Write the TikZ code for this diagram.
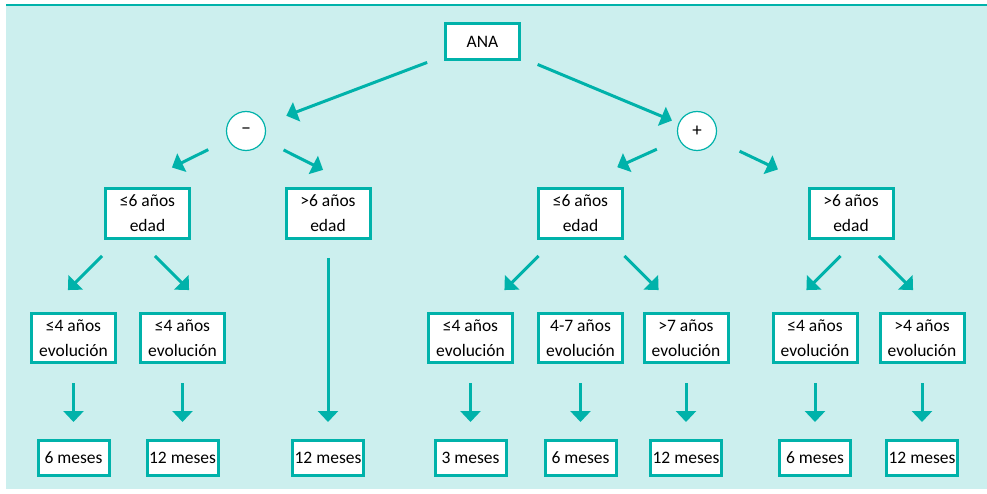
\documentclass[tikz,border=0pt]{standalone}
\usepackage{fontspec}
\setmainfont{Carlito}
\usepackage{tikz}
\usetikzlibrary{arrows.meta}
\usetikzlibrary{calc}
\definecolor{turq}{HTML}{00B2AA}
\definecolor{fondo}{HTML}{CCEFEE}

\begin{document}
\begin{tikzpicture}[x=1pt, y=-1pt,
    caja/.style={draw=turq, line width=3pt, fill=white, inner sep=0pt, align=center, text=black,
        font=\fontsize{17.5}{25}\selectfont},
    edad/.style={caja, minimum width=84pt, minimum height=50pt},
    evo/.style={caja, minimum width=84pt, minimum height=49pt},
    mes/.style={caja, minimum width=71pt, minimum height=35pt},
    signo/.style={circle, draw=turq, line width=1.2pt, fill=white, minimum size=39pt, inner sep=0pt,
        font=\fontsize{19}{19}\selectfont},
    flecha/.style={draw=turq, line width=3pt, -{Triangle[width=20pt,length=11pt]}}
]
\useasboundingbox (0,0) rectangle (987,494);

% fondo
\fill[fondo] (6,6) rectangle (987,489);
\draw[turq, line width=2.5pt] (6,5) -- (987,5);

\node[caja, minimum width=74pt, minimum height=36pt] (ana) at (482.5,41.5) {ANA};
\node[signo] (menos) at (246,131) {−};
\node[signo] (mas) at (697,131) {+};

\node[edad] (edadA) at (147.5,213.5) {≤6 años\\edad};
\node[edad] (edadB) at (328,213.5) {>6 años\\edad};
\node[edad] (edadC) at (580.5,213.5) {≤6 años\\edad};
\node[edad] (edadD) at (851,213.5) {>6 años\\edad};

\node[evo] (evoA) at (73.5,338) {≤4 años\\evolución};
\node[evo] (evoB) at (182.5,338) {≤4 años\\evolución};
\node[evo] (evoC) at (470.5,338) {≤4 años\\evolución};
\node[evo] (evoD) at (580.5,338) {4-7 años\\evolución};
\node[evo] (evoE) at (686,338) {>7 años\\evolución};
\node[evo] (evoF) at (815,338) {≤4 años\\evolución};
\node[evo] (evoG) at (922,338) {>4 años\\evolución};

\node[mes] (mesA) at (73.5,458) {6 meses};
\node[mes] (mesB) at (182.5,458) {12 meses};
\node[mes] (mesC) at (328,458) {12 meses};
\node[mes] (mesD) at (470.5,458) {3 meses};
\node[mes] (mesE) at (580.5,458) {6 meses};
\node[mes] (mesF) at (686,458) {12 meses};
\node[mes] (mesG) at (815,458) {6 meses};
\node[mes] (mesH) at (922,458) {12 meses};

\draw[flecha, shorten <=18pt, shorten >=23pt] (ana) -- (menos);
\draw[flecha, shorten <=18pt, shorten >=7pt] (ana) -- (mas);

\draw[flecha, shorten <=22pt, shorten >=44pt] (menos) -- ($(edadA.north)+(-15,0)$);
\draw[flecha, shorten <=22pt, shorten >=38pt] (menos) -- ($(edadB.north)+(29,0)$);
\draw[flecha, shorten <=24pt, shorten >=48pt] (mas) -- ($(edadC.north)+(-7,0)$);
\draw[flecha, shorten <=27pt, shorten >=41pt] (mas) -- ($(edadD.north)+(-36,0)$);

\draw[flecha, shorten <=22.6pt, shorten >=31pt] ($(edadA.south)+(-29.5,0)$) -- ($(evoA.north)+(-27.5,0)$);
\draw[flecha, shorten <=22.6pt, shorten >=31pt] ($(edadA.south)+(-8.5,0)$) -- ($(evoB.north)+(28.5,0)$);
\draw[flecha, shorten <=22.6pt, shorten >=31pt] ($(edadC.south)+(-26,0)$) -- ($(evoC.north)+(12,0)$);
\draw[flecha, shorten <=22.6pt, shorten >=31pt] ($(edadC.south)+(28,0)$) -- ($(evoE.north)+(-5.5,0)$);
\draw[flecha, shorten <=22.6pt, shorten >=31pt] ($(edadD.south)+(5.5,0)$) -- ($(evoF.north)+(-30.5,0)$);
\draw[flecha, shorten <=22.6pt, shorten >=31pt] ($(edadD.south)+(12,0)$) -- ($(evoG.north)+(13,0)$);

\draw[flecha, shorten <=18pt, shorten >=17pt] (edadB) -- (edadB |- mesC.north);
\foreach \a/\b in {evoA/mesA, evoB/mesB, evoC/mesD, evoD/mesE, evoE/mesF, evoF/mesG, evoG/mesH}
    \draw[flecha, shorten <=19pt, shorten >=17pt] (\a) -- (\a |- \b.north);
\end{tikzpicture}
\end{document}
